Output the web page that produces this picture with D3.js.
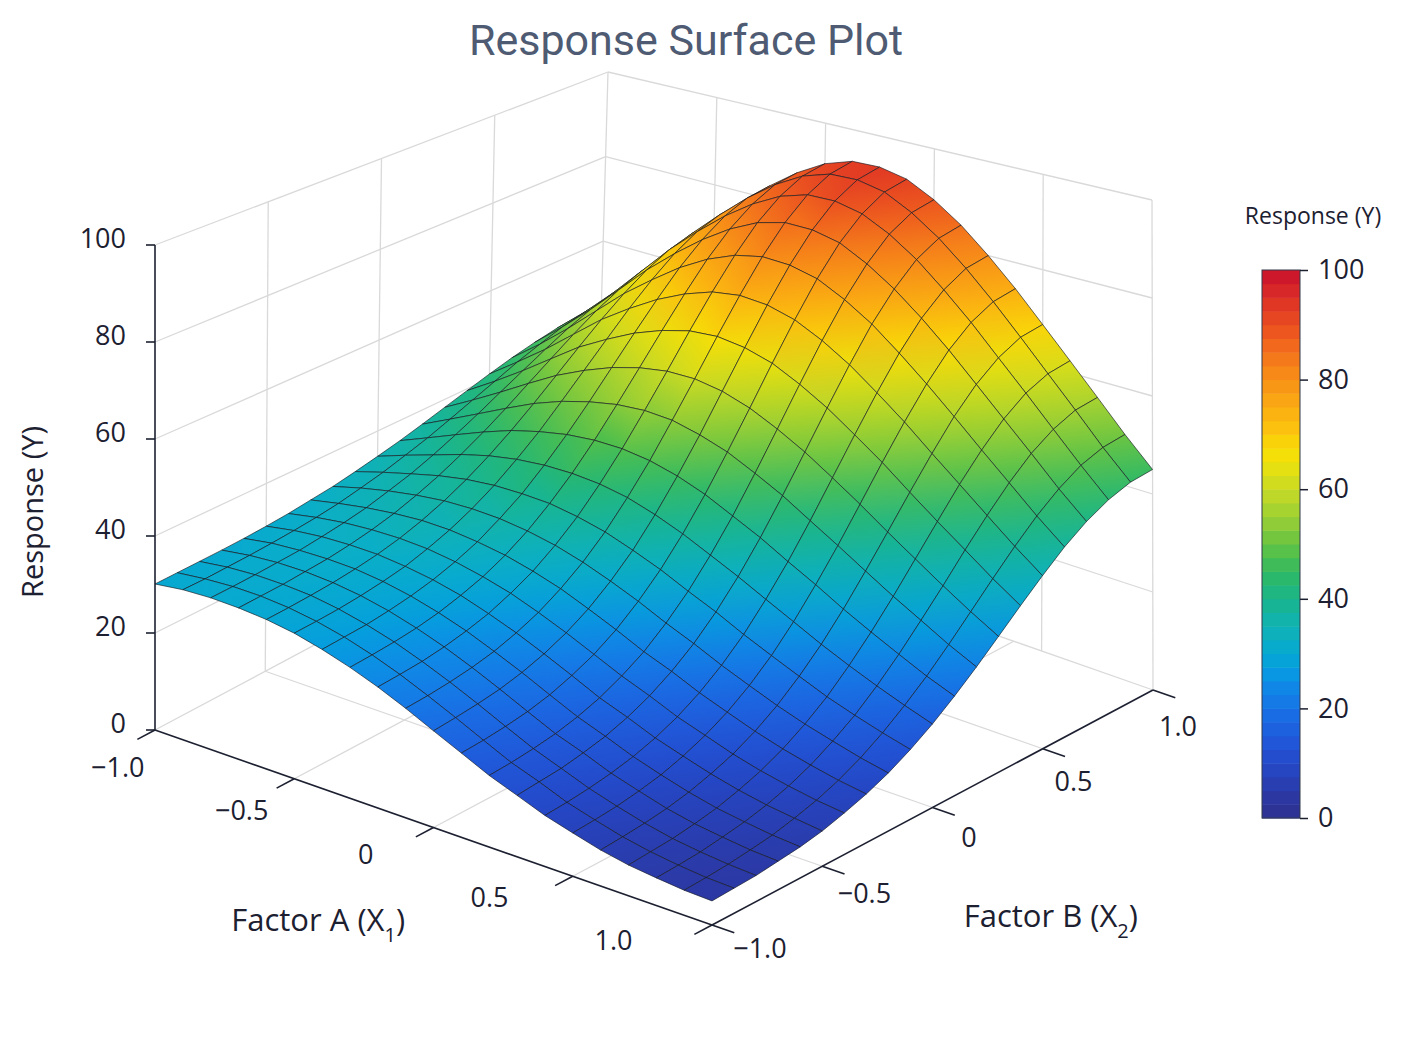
<!DOCTYPE html>
<html>
<head>
<meta charset="utf-8">
<script src="https://cdn.jsdelivr.net/npm/d3@7"></script>
<style>
  body { margin: 0; background: #fff; }
  text { font-family: "Open Sans", "Noto Sans", sans-serif; fill: #1c2030; }
</style>
</head>
<body>
<div id="chart"></div>
<script>
// Response surface on a 21 x 21 grid
var factorA = [-1.0,-0.9,-0.8,-0.7,-0.6,-0.5,-0.4,-0.3,-0.2,-0.1,0,0.1,0.2,0.3,0.4,0.5,0.6,0.7,0.8,0.9,1.0];
var factorB = [-1.0,-0.9,-0.8,-0.7,-0.6,-0.5,-0.4,-0.3,-0.2,-0.1,0,0.1,0.2,0.3,0.4,0.5,0.6,0.7,0.8,0.9,1.0];
// one row per factorB value, one column per factorA value
var response = [
  [30.1,30.7,30.8,30.5,29.9,28.9,27.4,25.6,23.5,21.1,18.5,16.0,13.5,11.5,9.5,8.0,6.6,5.6,5.0,4.5,4.3],
  [30.2,30.7,30.9,30.7,30.1,29.1,27.7,25.9,23.8,21.4,18.9,16.3,13.8,11.9,9.8,8.3,6.9,5.9,5.2,4.7,4.5],
  [30.3,30.9,31.1,30.9,30.4,29.4,28.0,26.3,24.2,21.9,19.4,16.8,14.3,12.3,10.3,8.7,7.3,6.2,5.5,5.0,4.7],
  [30.4,31.1,31.4,31.3,30.8,29.9,28.6,26.9,24.9,22.6,20.1,17.5,15.0,13.1,11.0,9.4,7.9,6.8,6.1,5.5,5.2],
  [30.6,31.4,31.7,31.7,31.4,30.6,29.4,27.8,25.9,23.6,21.2,18.6,16.1,14.1,12.0,10.3,8.8,7.6,6.8,6.1,5.7],
  [30.9,31.8,32.3,32.4,32.2,31.5,30.5,29.1,27.2,25.1,22.7,20.2,17.6,15.6,13.4,11.7,10.1,8.8,7.8,7.1,6.5],
  [31.3,32.3,33.0,33.3,33.3,32.9,32.0,30.7,29.1,27.0,24.7,22.2,19.7,17.6,15.3,13.5,11.7,10.3,9.2,8.3,7.7],
  [31.9,33.0,33.9,34.5,34.8,34.6,33.9,32.9,31.4,29.6,27.3,24.9,22.3,20.2,17.8,15.8,13.9,12.3,11.0,9.9,9.1],
  [32.5,34.0,35.2,36.1,36.7,36.8,36.5,35.7,34.5,32.8,30.7,28.4,25.8,23.5,21.0,18.8,16.7,14.9,13.4,12.0,10.9],
  [33.4,35.1,36.6,38.0,39.0,39.5,39.5,39.2,38.2,36.8,34.8,32.6,30.0,27.6,24.9,22.5,20.2,18.0,16.2,14.6,13.2],
  [34.4,36.5,38.4,40.3,41.8,42.8,43.3,43.3,42.8,41.7,39.9,37.7,35.1,32.5,29.7,27.0,24.3,21.9,19.7,17.7,15.9],
  [35.5,38.0,40.5,42.9,45.0,46.5,47.6,48.1,48.0,47.2,45.7,43.6,40.9,38.2,35.1,32.2,29.1,26.3,23.7,21.2,19.1],
  [36.8,39.8,42.8,45.8,48.6,50.8,52.4,53.5,53.9,53.5,52.1,50.2,47.5,44.6,41.2,37.9,34.5,31.2,28.2,25.2,22.6],
  [38.2,41.7,45.3,49.0,52.5,55.3,57.6,59.2,60.1,60.1,59.1,57.2,54.5,51.4,47.8,44.1,40.2,36.5,32.9,29.5,26.4],
  [39.6,43.6,47.8,52.2,56.5,59.9,62.9,65.1,66.6,67.0,66.2,64.5,61.7,58.4,54.5,50.5,46.1,41.9,37.9,33.9,30.3],
  [41.0,45.6,50.3,55.4,60.4,64.5,68.1,70.9,72.9,73.7,73.2,71.6,68.8,65.3,61.1,56.7,51.9,47.3,42.7,38.2,34.1],
  [42.3,47.3,52.7,58.4,64.0,68.7,73.0,76.4,78.8,80.0,79.7,78.3,75.4,71.8,67.3,62.5,57.4,52.2,47.2,42.2,37.7],
  [43.4,48.9,54.7,60.9,67.1,72.4,77.1,81.0,83.9,85.4,85.3,84.0,81.0,77.2,72.6,67.5,62.0,56.5,51.1,45.6,40.7],
  [44.3,50.0,56.2,62.9,69.5,75.2,80.3,84.5,87.7,89.5,89.6,88.3,85.4,81.5,76.6,71.3,65.5,59.8,54.0,48.3,43.0],
  [44.8,50.8,57.2,64.1,71.0,76.9,82.3,86.8,90.2,92.1,92.3,91.1,88.1,84.1,79.2,73.7,67.8,61.8,55.9,49.9,44.5],
  [45.0,51.0,57.5,64.5,71.5,77.5,83.0,87.5,91.0,93.0,93.2,92.0,89.0,85.0,80.0,74.5,68.5,62.5,56.5,50.5,45.0]
];

var zTicks = [0, 20, 40, 60, 80, 100];
var factorTicks = [-1, -0.5, 0, 0.5, 1];
var leftWallB = [-0.5, 0, 0.5, 1];
var rightWallA = [-0.6, -0.2, 0.2, 0.6, 1];

// colour map stops (value -> colour)
var colorDomain = [0,5,10,15,20,25,28,32,36,40,44,48,52,56,60,64,67,70,74,78,82,86,90,95,100];
var colorRange = ["#2d2f8e","#2b3aa8","#2448c8","#1f5bdc","#1872e6","#0d8ee6","#04a0dc","#0aaec8",
  "#12b3ac","#19b58c","#2bb86a","#4fbf4c","#7ec83c","#a5d232","#c8da24","#e6e010","#f8df06",
  "#fcc80c","#fbb211","#f99b15","#f6851a","#f26a1c","#ea4e20","#dc2f26","#c8102e"];

var width = 1402, height = 1041;
var color = d3.scaleLinear().domain(colorDomain).range(colorRange).clamp(true);

var svg = d3.select('#chart').append('svg')
  .attr('width', width)
  .attr('height', height);
var defs = svg.append('defs');

// corners of the 3d box on screen (L = A-1/B-1, F = A+1/B-1, R = A+1/B+1, K = A-1/B+1)
var box = {
  bottom: {L: [155, 730], F: [712, 925], R: [1153, 690], K: [596, 495]},
  top:    {L: [155, 245], F: [712, 365], R: [1152, 200], K: [608, 72]}
};
var uScale = d3.scaleLinear().domain([-1, 1]).range([0, 1]);
var vScale = d3.scaleLinear().domain([-1, 1]).range([0, 1]);
var tScale = d3.scaleLinear().domain([0, 100]).range([0, 1]);

function bilerp(c, p, q, k) {
  return c.L[k]*(1-p)*(1-q) + c.F[k]*p*(1-q) + c.R[k]*p*q + c.K[k]*(1-p)*q;
}
function project(a, b, z) {
  var p = uScale(a), q = vScale(b), s = tScale(z);
  return [0, 1].map(function(k) {
    return bilerp(box.bottom, p, q, k)*(1-s) + bilerp(box.top, p, q, k)*s;
  });
}
var line = d3.line();

// Title
svg.append('text')
  .attr('x', 686).attr('y', 55)
  .attr('text-anchor', 'middle')
  .style('font-family', 'Roboto, "Open Sans", sans-serif')
  .style('font-size', '43px')
  .style('fill', '#4e5b73')
  .text('Response Surface Plot');

// Walls and floor grid
var grid = svg.append('g')
  .attr('fill', 'none')
  .attr('stroke', '#d9d9d9')
  .attr('stroke-width', 1.3);
function gridLine(p0, p1) { grid.append('path').attr('d', line([p0, p1])); }

leftWallB.forEach(function(b) { gridLine(project(-1, b, 0), project(-1, b, 100)); });
zTicks.forEach(function(z) { gridLine(project(-1, -1, z), project(-1, 1, z)); });
rightWallA.forEach(function(a) { gridLine(project(a, 1, 0), project(a, 1, 100)); });
zTicks.forEach(function(z) { gridLine(project(-1, 1, z), project(1, 1, z)); });
factorTicks.slice(1, 4).forEach(function(a) { gridLine(project(a, -1, 0), project(a, 1, 0)); });
factorTicks.slice(1, 4).forEach(function(b) { gridLine(project(-1, b, 0), project(1, b, 0)); });

// Surface cells, painted back to front (viewer sits at the A+1/B-1 corner)
var cells = [];
for (var j = 0; j < factorB.length - 1; j++) {
  for (var i = 0; i < factorA.length - 1; i++) {
    var idx = [[i, j], [i+1, j], [i+1, j+1], [i, j+1]];
    var zs = idx.map(function(d) { return response[d[1]][d[0]]; });
    var pts = idx.map(function(d, k) { return project(factorA[d[0]], factorB[d[1]], zs[k]); });
    var aMid = (factorA[i] + factorA[i+1]) / 2, bMid = (factorB[j] + factorB[j+1]) / 2;
    cells.push({
      id: 'c' + j + '_' + i, pts: pts, zs: zs,
      lo: d3.minIndex(zs), hi: d3.maxIndex(zs),
      depth: (1 - uScale(aMid)) + vScale(bMid)
    });
  }
}
cells.sort(function(x, y) { return y.depth - x.depth; });

// each cell shaded from its lowest to its highest corner
var grads = defs.selectAll('linearGradient')
  .data(cells)
  .join('linearGradient')
  .attr('id', function(d) { return d.id; })
  .attr('gradientUnits', 'userSpaceOnUse')
  .attr('x1', function(d) { return d.pts[d.lo][0]; })
  .attr('y1', function(d) { return d.pts[d.lo][1]; })
  .attr('x2', function(d) { return d.pts[d.hi][0]; })
  .attr('y2', function(d) { return d.pts[d.hi][1]; });
grads.append('stop').attr('offset', 0).attr('stop-color', function(d) { return color(d.zs[d.lo]); });
grads.append('stop').attr('offset', 1).attr('stop-color', function(d) { return color(d.zs[d.hi]); });

svg.append('g').selectAll('path')
  .data(cells)
  .join('path')
  .attr('d', function(d) { return line(d.pts) + 'Z'; })
  .attr('fill', function(d) { return 'url(#' + d.id + ')'; })
  .attr('stroke', '#141820')
  .attr('stroke-opacity', 0.8)
  .attr('stroke-width', 0.8)
  .attr('stroke-linejoin', 'round');

// Axes
var axisColor = '#1c2030';
var axes = svg.append('g').attr('stroke', axisColor).attr('stroke-width', 1.6).attr('fill', 'none');
axes.append('path').attr('d', line([project(-1, -1, 0), project(-1, -1, 100)]));
axes.append('path').attr('d', line([project(-1, -1, 0), project(1, -1, 0)]));
axes.append('path').attr('d', line([project(1, -1, 0), project(1, 1, 0)]));

var fmt = function(d) { return d === 0 ? '0' : d3.format('.1f')(d); };

// Z axis ticks
zTicks.forEach(function(z) {
  var p = project(-1, -1, z);
  axes.append('path').attr('d', line([[p[0] - 9, p[1]], p]));
  svg.append('text')
    .attr('x', p[0] - 29).attr('y', p[1] - 4)
    .attr('text-anchor', 'end')
    .attr('dominant-baseline', 'middle')
    .style('font-size', '27px')
    .text(z);
});

// Factor A ticks (front-left edge)
factorTicks.forEach(function(a) {
  axes.append('path').attr('d', line([project(a, -1, 0), project(a, -1.08, 0)]));
  var p = project(a*0.89 - 0.03, -1.27, 0);
  svg.append('text')
    .attr('x', p[0]).attr('y', p[1])
    .attr('text-anchor', 'middle')
    .attr('dominant-baseline', 'middle')
    .style('font-size', '27px')
    .text(fmt(a));
});

// Factor B ticks (front-right edge)
factorTicks.forEach(function(b) {
  axes.append('path').attr('d', line([project(1, b, 0), project(1.08, b, 0)]));
  var p = project(1.21, b*0.948 - 0.10, 0);
  svg.append('text')
    .attr('x', p[0]).attr('y', p[1])
    .attr('text-anchor', 'middle')
    .attr('dominant-baseline', 'middle')
    .style('font-size', '27px')
    .text(fmt(b));
});

// Axis titles
function factorTitle(pos, name, sub) {
  var t = svg.append('text')
    .attr('x', pos[0]).attr('y', pos[1])
    .attr('text-anchor', 'middle')
    .attr('dominant-baseline', 'middle')
    .style('font-size', '31px');
  t.append('tspan').text(name + ' (X');
  t.append('tspan').attr('baseline-shift', 'sub').style('font-size', '20px').text(sub);
  t.append('tspan').text(')');
}
factorTitle(project(0.14, -1.70, 0), 'Factor A', '1');
factorTitle(project(1.71, -0.36, 0), 'Factor B', '2');

svg.append('text')
  .attr('transform', 'translate(35,512) rotate(-90)')
  .attr('text-anchor', 'middle')
  .attr('dominant-baseline', 'middle')
  .style('font-size', '29px')
  .text('Response (Y)');

// Colour bar
var cb = {x: 1262, w: 38};
var cbScale = d3.scaleLinear().domain([0, 100]).range([818, 270]);
var cbSteps = d3.range(0, 100, 2.5);
var legend = svg.append('g');
legend.selectAll('rect')
  .data(cbSteps)
  .join('rect')
  .attr('x', cb.x)
  .attr('y', function(d) { return cbScale(d + 2.5); })
  .attr('width', cb.w)
  .attr('height', function(d) { return cbScale(d) - cbScale(d + 2.5) + 0.5; })
  .attr('fill', function(d) { return color(d + 1.25); });
legend.append('rect')
  .attr('x', cb.x).attr('y', cbScale(100))
  .attr('width', cb.w).attr('height', cbScale(0) - cbScale(100))
  .attr('fill', 'none').attr('stroke', '#333a4a').attr('stroke-width', 1);

var cbAxis = legend.append('g')
  .attr('transform', 'translate(' + (cb.x + cb.w) + ',0)')
  .call(d3.axisRight(cbScale).tickValues(zTicks).tickSize(8).tickPadding(10));
cbAxis.select('.domain').remove();
cbAxis.selectAll('line').attr('stroke', axisColor).attr('stroke-width', 1.5);
cbAxis.selectAll('text')
  .style('font-family', '"Open Sans", "Noto Sans", sans-serif')
  .style('font-size', '27px')
  .attr('fill', axisColor);

legend.append('text')
  .attr('x', 1313).attr('y', 218)
  .attr('text-anchor', 'middle')
  .attr('dominant-baseline', 'middle')
  .style('font-size', '23px')
  .text('Response (Y)');
</script>
</body>
</html>
